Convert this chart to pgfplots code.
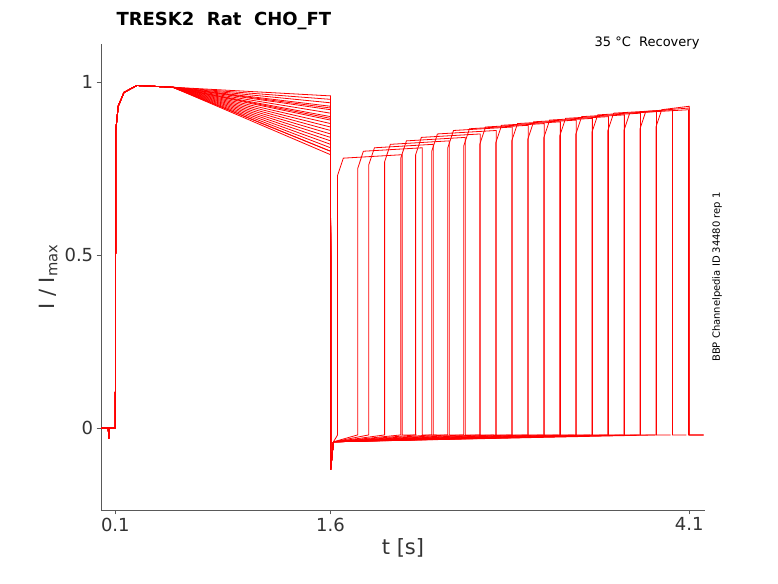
\documentclass[border=0pt]{standalone}
\usepackage{pgfplots}
\pgfplotsset{compat=1.18}
\usepackage{fontspec}
\setmainfont{DejaVu Sans}
\newcommand\sweep[5]{% E T P D F
 \pgfmathsetmacro\Tb{#2+0.04}\pgfmathsetmacro\Pa{#3-0.05}\pgfmathsetmacro\Pb{#3+0.01}
 \addplot[red,line width=0.8pt] coordinates {(0,0)(0.05,0)(0.055,-0.03)(0.06,0)(0.1,0)(0.103,0.86)(0.12,0.93)(0.16,0.97)(0.25,0.99)(0.5,0.985)(1.6,#1)(1.601,-0.12)(1.62,-0.04)(#2,-0.02)(#2,\Pa)(\Tb,#3)(#4,\Pb)(#4,-0.02)(#5,-0.02)};}
\begin{document}
\begin{tikzpicture}[x=1pt,y=1pt]
\path (0,0) rectangle (778,583);
\begin{axis}[at={(101pt,73pt)},anchor=south west,scale only axis,width=604pt,height=466pt,
 xmin=0,xmax=4.21,ymin=-0.237,ymax=1.11,
 axis x line*=bottom,axis y line*=left,axis line style={gray!70!black},
 tick align=outside,tick style={gray!70!black},
 xtick={0.1,1.6,4.1},xticklabels={0.1,1.6,4.1},ytick={0,0.5,1},yticklabels={0,0.5,1},
 ticklabel style={font=\fontsize{18}{21}\selectfont,text=black!80},
 xlabel={t [s]},ylabel={I / I$_{\mathrm{max}}$},
 label style={font=\fontsize{21}{25}\selectfont,text=black!80},
 /pgf/number format/assume math mode=true,clip=false]
\sweep{0.96}{1.649}{0.78}{2.099}{2.2}
\sweep{0.95}{1.789}{0.80}{2.239}{2.34}
\sweep{0.94}{1.866}{0.81}{2.316}{2.42}
\sweep{0.93}{1.977}{0.82}{2.427}{2.53}
\sweep{0.925}{2.089}{0.83}{2.539}{2.64}
\sweep{0.92}{2.193}{0.84}{2.643}{2.74}
\sweep{0.91}{2.305}{0.85}{2.755}{2.86}
\sweep{0.90}{2.417}{0.86}{2.867}{2.97}
\sweep{0.895}{2.528}{0.865}{2.978}{3.08}
\sweep{0.89}{2.640}{0.87}{3.09}{3.19}
\sweep{0.88}{2.752}{0.875}{3.202}{3.30}
\sweep{0.87}{2.863}{0.88}{3.313}{3.41}
\sweep{0.86}{2.975}{0.885}{3.425}{3.53}
\sweep{0.85}{3.087}{0.89}{3.537}{3.64}
\sweep{0.84}{3.198}{0.895}{3.648}{3.75}
\sweep{0.83}{3.310}{0.90}{3.76}{3.86}
\sweep{0.82}{3.422}{0.905}{3.872}{3.97}
\sweep{0.81}{3.533}{0.91}{3.983}{4.08}
\sweep{0.80}{3.645}{0.91}{4.095}{4.2}
\sweep{0.80}{3.757}{0.915}{4.1}{4.2}
\sweep{0.79}{3.868}{0.92}{4.1}{4.2}
\end{axis}
\node[anchor=base west,font=\bfseries\fontsize{18}{21}\selectfont] at (113,557) {TRESK2\ \ Rat\ \ CHO\_FT};
\node[anchor=base east,font=\fontsize{13}{15}\selectfont] at (703,536) {35 °C\ \ Recovery};
\node[rotate=90,font=\fontsize{10}{12}\selectfont] at (717,306) {BBP Channelpedia ID 34480 rep 1};
\end{tikzpicture}
\end{document}
